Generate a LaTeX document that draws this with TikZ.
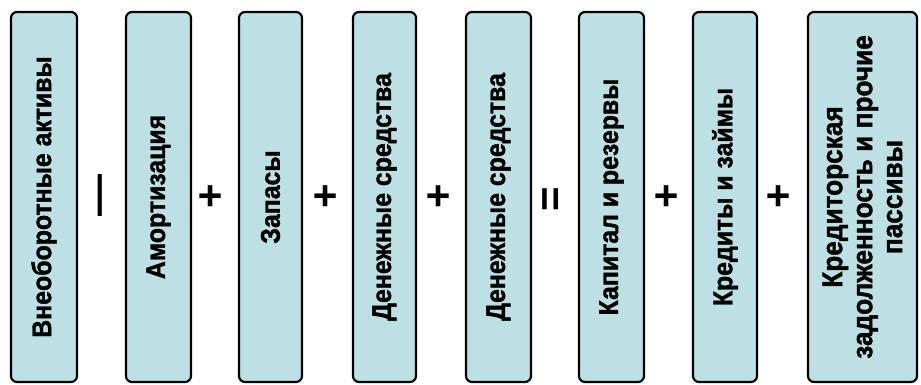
\documentclass[tikz,border=0pt]{standalone}
\usepackage{fontspec}
\setmainfont{Liberation Sans}[FakeStretch=0.92, BoldFeatures={FakeBold=1.5}]
\newfontfamily\opfont{Liberation Sans}
\definecolor{boxfill}{RGB}{188,224,227}
\begin{document}
\begin{tikzpicture}[x=1pt,y=1pt,
  box/.style={draw=black, line width=2.2pt, fill=boxfill, rounded corners=6pt,
    rotate=90, minimum height=#1, minimum width=370pt, inner sep=0pt, align=center,
    font=\bfseries\fontsize{27}{30}\selectfont},
  box/.default=65pt,
  wide/.style={font=\bfseries\fontsize{28.5}{30}\selectfont},
  op/.style={rotate=90, inner sep=0pt, font=\opfont\bfseries\fontsize{42}{42}\selectfont}]
\useasboundingbox (0,0) rectangle (921,385);
\node[box=66pt]  (b1) at (44,188)    {Внеоборотные активы};
\node[box=65pt]  (b2) at (158.5,188) {Амортизация};
\node[box=63pt]  (b3) at (270.5,188) {Запасы};
\node[box=63pt]  (b4) at (384.5,188) {Денежные средства};
\node[box=65pt]  (b5) at (498.5,188) {Денежные средства};
\node[box=65pt]  (b6) at (611.5,188) {Капитал и резервы};
\node[box=64pt]  (b7) at (725,188)   {Кредиты и займы};
\node[box=109pt, wide] (b8) at (862.5,188) {Кредиторская\\задолженность и прочие\\пассивы};
\node[op] (o1) at (104.5,189) {—};
\node[op] (o2) at (212,189) {+};
\node[op] (o3) at (327,189) {+};
\node[op] (o4) at (440,189) {+};
\node[op] (o5) at (554,186) {=};
\node[op] (o6) at (668,189) {+};
\node[op] (o7) at (780,189) {+};
\end{tikzpicture}
\end{document}
